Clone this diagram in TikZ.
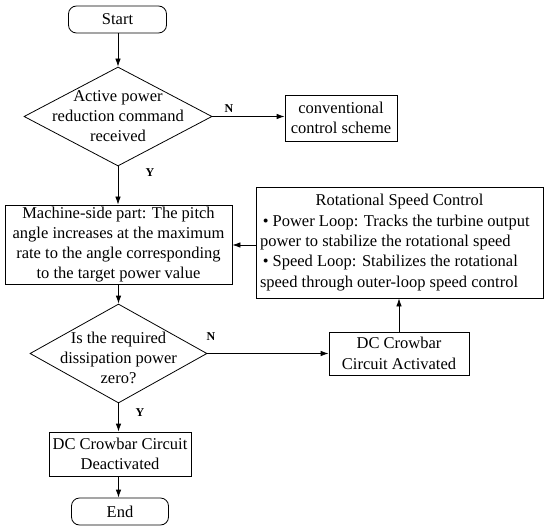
\documentclass[tikz,border=0pt]{standalone}
\usepackage{fontspec}
\setmainfont{Liberation Serif}
\usetikzlibrary{shapes.geometric,arrows.meta}
\begin{document}
\begin{tikzpicture}[x=1bp,y=-1bp,
  every node/.style={font=\fontsize{16.5bp}{20.3bp}\selectfont, inner sep=0pt},
  box/.style={draw, line width=0.8bp, align=center},
  term/.style={draw, line width=0.8bp, rounded corners=8bp, align=center},
  dia/.style={draw, line width=0.8bp, diamond},
  lab/.style={font=\fontsize{12bp}{14bp}\selectfont\bfseries},
  arr/.style={line width=0.8bp, -{Latex[length=8bp,width=5.5bp]}}]
\useasboundingbox (0,0) rectangle (550,532);
\node[term, minimum width=98bp, minimum height=27bp] (start) at (117.5,19.5) {Start};
\node[dia, minimum width=188bp, minimum height=99bp] (d1) at (118,116.5) {};
\node at (118,116) [align=center] (d1t) {Active power\\reduction command\\received};
\node[box, minimum width=112bp, minimum height=46bp] (conv) at (341,118) {conventional\\control scheme};
\node[box, minimum width=227bp, minimum height=79bp, font=\fontsize{16.5bp}{19.8bp}\selectfont] (mach) at (118.5,244.5) {Machine-side part: The pitch\\angle increases at the maximum\\rate to the angle corresponding\\to the target power value};
\node[box, minimum width=287bp, minimum height=111bp] (rot) at (399.5,242.5) {Rotational Speed Control\\
\makebox[279bp][l]{\,\textbullet\ Power Loop: Tracks the turbine output}\\
\makebox[279bp][l]{power to stabilize the rotational speed}\\
\makebox[279bp][l]{\,\textbullet\ Speed Loop: Stabilizes the rotational}\\
\makebox[279bp][l]{speed through outer-loop speed control}};
\node[dia, minimum width=177bp, minimum height=99bp] (d2) at (118.5,353.5) {};
\node at (118.5,358) [align=center] (d2t) {Is the required\\dissipation power\\zero?};
\node[box, minimum width=140bp, minimum height=43bp] (act) at (399,353.5) {DC Crowbar\\Circuit Activated};
\node[box, minimum width=142bp, minimum height=44bp] (deact) at (120,454) {DC Crowbar Circuit\\Deactivated};
\node[term, minimum width=97bp, minimum height=27bp] (end) at (120,511.5) {End};
\node[lab] (n1) at (229,109) {N};
\node[lab] (y1) at (150,173) {Y};
\node[lab] (n2) at (211,337) {N};
\node[lab] (y2) at (140,413) {Y};
\draw[arr] (start.south -| d1.north) -- (d1.north);
\draw[arr] (d1.south) -- (d1.south |- mach.north);
\draw[arr] (d1.east) -- (d1.east -| conv.west);
\draw[arr] (mach.south -| d2.north) -- (d2.north);
\draw[arr] (d2.south) -- (d2.south |- deact.north);
\draw[arr] (d2.east) -- (d2.east -| act.west);
\draw[arr] (act.north) -- (act.north |- rot.south);
\coordinate (ry) at (0,245);
\draw[arr] (rot.west |- ry) -- (mach.east |- ry);
\draw[arr] (deact.south -| d2.south) -- (d2.south |- end.north);
\end{tikzpicture}
\end{document}
